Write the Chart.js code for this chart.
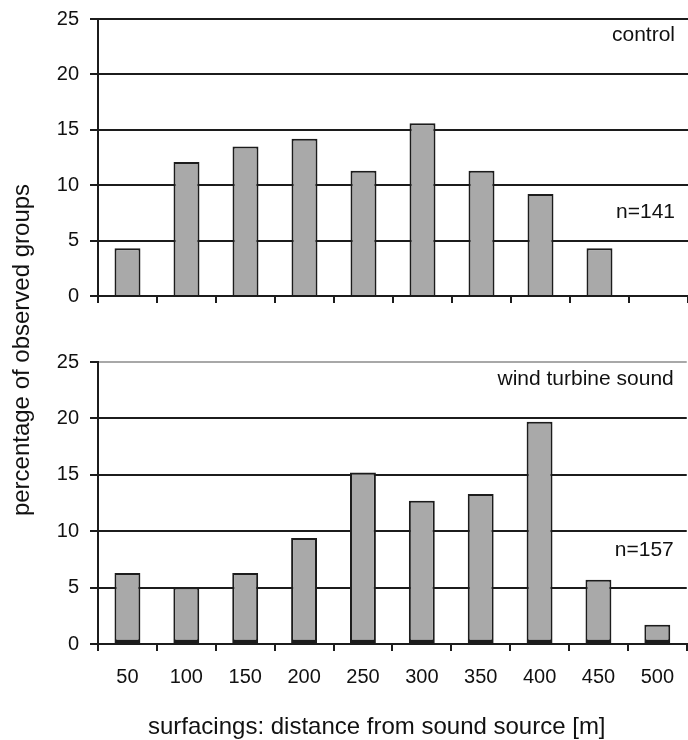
<!DOCTYPE html>
<html>
<head>
<meta charset="utf-8">
<title>Surfacing distance from sound source</title>
<script src="https://cdn.jsdelivr.net/npm/chart.js@4/dist/chart.umd.min.js"></script>
<style>
  html, body { margin: 0; padding: 0; background: #fff; }
  #wrap { position: relative; width: 688px; height: 740px; overflow: hidden;
          font-family: "Liberation Sans", Arial, sans-serif; color: #111; }
  #wrap canvas { position: absolute; left: 0; }
  #topChart { top: 0; z-index: 1; }
  #bottomChart { top: 310px; z-index: 0; }
  .ytitle { position: absolute; left: -179px; top: 336px; width: 400px; height: 28px;
            line-height: 28px; text-align: center; font-size: 24px; white-space: nowrap;
            transform: rotate(-90deg); z-index: 2; }
  .xtitle { position: absolute; left: 148px; top: 712px; height: 28px; line-height: 28px;
            font-size: 24px; white-space: nowrap; z-index: 2; }
</style>
</head>
<body>
<div id="wrap">
  <canvas id="topChart" width="688" height="312"></canvas>
  <canvas id="bottomChart" width="688" height="430"></canvas>
  <div class="ytitle">percentage of observed groups</div>
  <div class="xtitle">surfacings: distance from sound source [m]</div>
</div>
<script>
// distance classes (m)
const categories = ['50', '100', '150', '200', '250', '300', '350', '400', '450', '500'];
// percentage of observed groups per distance class
const controlPct = [4.3, 12.1, 13.5, 14.2, 11.3, 15.6, 11.3, 9.2, 4.3, 0];
const turbinePct = [6.3, 5.0, 6.3, 9.4, 15.2, 12.7, 13.3, 19.7, 5.7, 1.7];
// y axis range and step
const yMin = 0, yMax = 25, yStep = 5;
// panel captions
const controlTags = [{ text: 'control', at: 23.0 }, { text: 'n=141', at: 7.07 }];
const turbineTags = [{ text: 'wind turbine sound', at: 23.0 }, { text: 'n=157', at: 7.83 }];

const FONT = '"Liberation Sans", Arial, sans-serif';
const INK = '#1c1c1c';
Chart.defaults.font.family = FONT;
Chart.defaults.color = '#111';

// captions written in the top-right corner of each panel
const panelTags = {
  id: 'panelTags',
  afterDatasetsDraw(chart, args, opts) {
    const { ctx, chartArea, scales } = chart;
    ctx.save();
    ctx.font = '21px ' + FONT;
    ctx.fillStyle = '#111';
    ctx.textAlign = 'right';
    ctx.textBaseline = 'alphabetic';
    for (const t of opts.items) {
      ctx.fillText(t.text, chartArea.right - 13, scales.y.getPixelForValue(t.at));
    }
    ctx.restore();
  }
};

function makePanel(canvasId, values, tags, opt) {
  return new Chart(document.getElementById(canvasId), {
    type: 'bar',
    data: {
      labels: categories,
      datasets: [{
        data: values,
        backgroundColor: '#a9a9a9',
        borderColor: INK,
        borderWidth: opt.barBorder,
        borderSkipped: opt.skip,
        categoryPercentage: 1,
        barPercentage: 0.44
      }]
    },
    options: {
      responsive: false,
      animation: false,
      events: [],
      layout: { padding: { top: opt.padTop, left: 0, right: 0, bottom: 0 } },
      plugins: {
        legend: { display: false },
        tooltip: { enabled: false },
        panelTags: { items: tags }
      },
      scales: {
        x: {
          offset: true,
          grid: { display: true, drawOnChartArea: false, drawTicks: true, offset: true,
                  tickLength: 7, color: INK, lineWidth: 2 },
          border: { display: true, color: INK, width: 2 },
          ticks: { display: opt.showLabels, padding: 14, color: '#111', font: { size: 20 },
                   maxRotation: 0, autoSkip: false },
          afterFit: s => { s.height = opt.xHeight; }
        },
        y: {
          min: yMin,
          max: yMax,
          grid: {
            color: c => (c.tick && c.tick.value === yMax ? opt.topLine : INK),
            lineWidth: 2,
            drawTicks: true,
            tickLength: 8,
            tickColor: INK
          },
          border: { display: true, color: INK, width: 2 },
          // compact line height keeps the end labels from adding extra plot padding
          ticks: { stepSize: yStep, padding: 11, color: '#111', font: { size: 20, lineHeight: 0.5 } },
          afterFit: s => { s.width = 98; }
        }
      }
    },
    plugins: [panelTags]
  });
}

makePanel('topChart', controlPct, controlTags, {
  padTop: 19, xHeight: 16, showLabels: false, topLine: INK,
  barBorder: 2, skip: 'start'
});

makePanel('bottomChart', turbinePct, turbineTags, {
  padTop: 52, xHeight: 96, showLabels: true, topLine: '#a8a8a8',
  barBorder: { top: 2, left: 2, right: 2, bottom: 3.5 }, skip: false
});
</script>
</body>
</html>
